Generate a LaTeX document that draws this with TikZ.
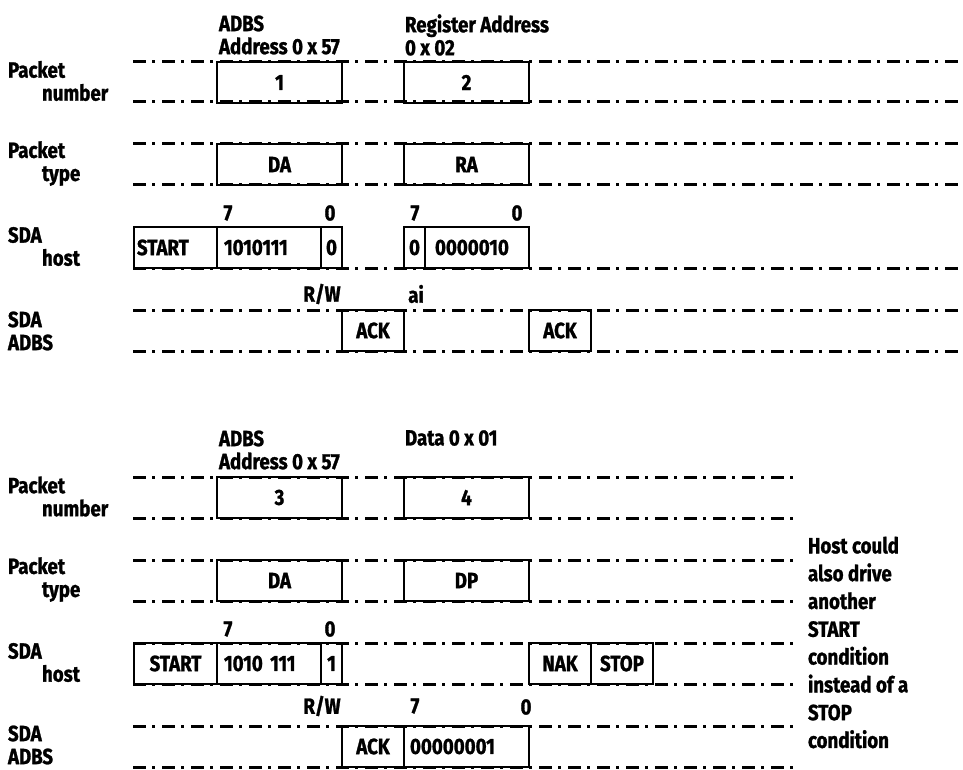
\documentclass[tikz,border=0pt]{standalone}
\usepackage{fontspec}
\setmainfont{Fira Sans}[FakeStretch=0.85, BoldFeatures={FakeBold=1.2}]
\usetikzlibrary{positioning}

\begin{document}
\begin{tikzpicture}[x=1pt, y=-1pt,
    every node/.style={font=\bfseries\fontsize{22}{23}\selectfont, inner sep=0pt, outer sep=0pt},
    bus/.style={line width=3pt, dash pattern=on 13pt off 6pt on 3pt off 7pt},
    cell/.style={draw, line width=1.8pt, anchor=north west, minimum height=41pt},
    lbl/.style={anchor=west, align=left}]
\useasboundingbox (0,0) rectangle (963,770);

% write of register address 0x02
\foreach \y in {62,102,144,185,268,310,351}
    \draw[bus] (133,\y) -- (963,\y);

\node[lbl] (pnum1) at (8,81) {Packet\\\hspace*{34pt}number};
\node[lbl] (ptyp1) at (8,163.5) {Packet\\\hspace*{34pt}type};
\node[lbl] (shost1) at (8,246.5) {SDA\\\hspace*{34pt}host};
\node[lbl] (sadbs1) at (8,331) {SDA\\ADBS};

\node[lbl] (hdev1) at (219,35) {ADBS\\Address 0 x 57};
\node[lbl] (hreg1) at (405,35) {Register Address\\0 x 02};

\node[cell, minimum width=125pt] (num1) at (217,62) {1};
\node[cell, minimum width=125pt] (num2) at (404,62) {2};
\node[cell, minimum width=125pt] (typ1) at (217,144) {DA};
\node[cell, minimum width=125pt] (typ2) at (404,144) {RA};

\node[cell, text width=77pt, inner xsep=3pt, align=left] (start1) at (134,227) {START};
\node[cell, text width=90pt, inner xsep=7pt, align=left] (dev1) at (start1.north east) {1010111};
\node[cell, minimum width=21pt] (rw1) at (dev1.north east) {0};
\node[cell, minimum width=21pt] (ai1) at (404,227) {0};
\node[cell, text width=84pt, inner xsep=10pt, align=left] (reg1) at (ai1.north east) {0000010};

\node[cell, minimum width=62pt] (ack1) at (342,310) {ACK};
\node[cell, minimum width=62pt] (ack2) at (529,310) {ACK};

\node (msb1) at (228,213) {7};
\node (lsb1) at (330,213) {0};
\node (msb2) at (415,213) {7};
\node (lsb2) at (517,213) {0};
\node (rwbit1) at (322,294) {R/W};
\node (aibit1) at (416,294) {ai};

% read of one data byte
\foreach \y in {477,518,560,601,643,684,726,767}
    \draw[bus] (133,\y) -- (797,\y);

\node[lbl] (pnum2) at (8,496.5) {Packet\\\hspace*{34pt}number};
\node[lbl] (ptyp2) at (8,579.5) {Packet\\\hspace*{34pt}type};
\node[lbl] (shost2) at (8,662.5) {SDA\\\hspace*{34pt}host};
\node[lbl] (sadbs2) at (8,745) {SDA\\ADBS};

\node[lbl] (hdev2) at (219,450) {ADBS\\Address 0 x 57};
\node[anchor=west] (hdat2) at (405,438) {Data 0 x 01};

\node[cell, minimum width=125pt] (num3) at (217,477) {3};
\node[cell, minimum width=125pt] (num4) at (404,477) {4};
\node[cell, minimum width=125pt] (typ3) at (217,560) {DA};
\node[cell, minimum width=125pt] (typ4) at (404,560) {DP};

\node[cell, minimum width=83pt] (start2) at (134,643) {START};
\node[cell, text width=90pt, inner xsep=7pt, align=left] (dev2) at (start2.north east) {1010 111};
\node[cell, minimum width=21pt] (rw2) at (dev2.north east) {1};
\node[cell, minimum width=62pt] (nak) at (529,643) {NAK};
\node[cell, minimum width=62pt] (stop) at (nak.north east) {STOP};

\node[cell, minimum width=62pt] (ack3) at (342,726) {ACK};
\node[cell, text width=113pt, inner xsep=6pt, align=left] (dat) at (ack3.north east) {00000001};

\node (msb3) at (228,629) {7};
\node (lsb3) at (330,629) {0};
\node (rwbit2) at (322,706) {R/W};
\node (msb4) at (415,706) {7};
\node (lsb4) at (526,707) {0};

\node[lbl, font=\bfseries\fontsize{22}{27.8}\selectfont] (note) at (808,642.5)
    {Host could\\also drive\\another\\START\\condition\\instead of a\\STOP\\condition};
\end{tikzpicture}
\end{document}
